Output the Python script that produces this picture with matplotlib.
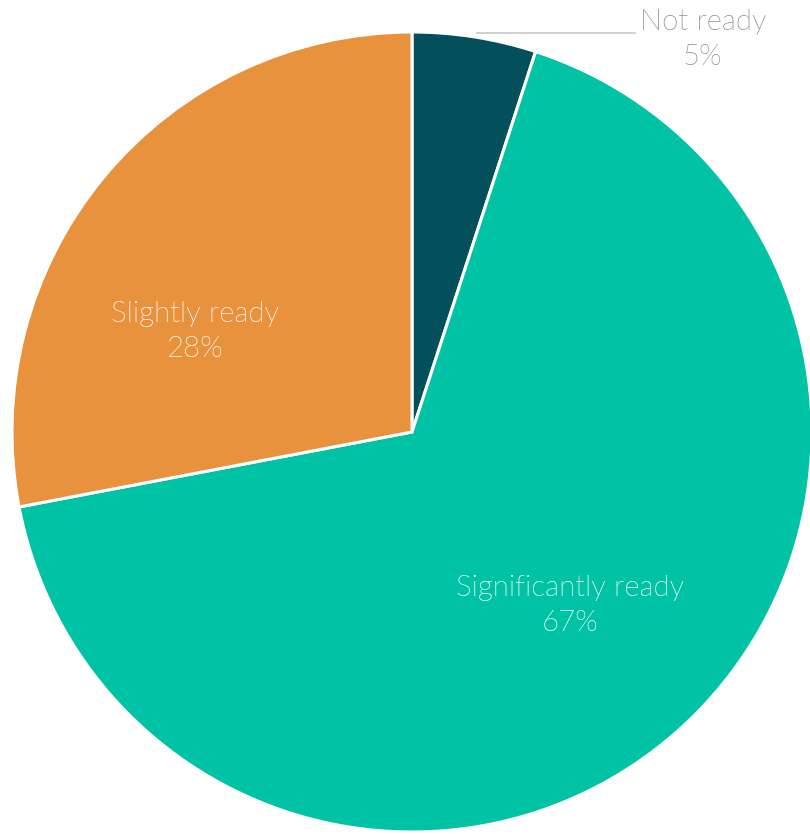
import matplotlib.pyplot as plt
from matplotlib import font_manager

# parts de chaque categorie (sens horaire depuis le haut)
labels = ["Not ready", "Significantly ready", "Slightly ready"]
shares = [5, 67, 28]
colors = ["#03505c", "#00c3a5", "#e9923e"]

plt.rcParams['font.family'] = ['Lato', 'DejaVu Sans']

# Lato Light si le fichier existe, sinon Lato normal
light_files = [f.fname for f in font_manager.fontManager.ttflist
               if 'lato' in f.fname.lower() and 'light' in f.fname.lower()
               and 'italic' not in f.fname.lower()]
if light_files:
    prop = font_manager.FontProperties(fname=light_files[0], size=21.2)
else:
    prop = font_manager.FontProperties(family='Lato', weight='normal', size=21.2)

fig = plt.figure(figsize=(8.10, 8.34), dpi=100)
ax = fig.add_axes([0, 0, 1, 1])
ax.set_xlim(0, 810)
ax.set_ylim(0, 834)
ax.set_aspect('equal')
ax.axis('off')

cx, cy, r = 412, 834 - 432, 400
wedges, _ = ax.pie(shares, colors=colors, startangle=90, counterclock=False,
                   center=(cx, cy), radius=r,
                   wedgeprops=dict(edgecolor='white', linewidth=2.2))
ax.set_xlim(0, 810)
ax.set_ylim(0, 834)

font = dict(fontproperties=prop, ha='center', va='center')

# etiquettes a l'interieur des parts
ax.text(195, 834 - 314, "Slightly ready", color='white', **font)
ax.text(195, 834 - 349, "28%", color='white', **font)
ax.text(570, 834 - 588, "Significantly ready", color='white', **font)
ax.text(570, 834 - 623, "67%", color='white', **font)

# etiquette exterieure avec trait de rappel
ax.plot([477, 635], [834 - 33, 834 - 33], color='#c8c8c8', linewidth=1.2)
ax.text(703, 834 - 22, "Not ready", color='#8c8c8c', **font)
ax.text(703, 834 - 57, "5%", color='#8c8c8c', **font)

fig.savefig("out.png", dpi=100)
